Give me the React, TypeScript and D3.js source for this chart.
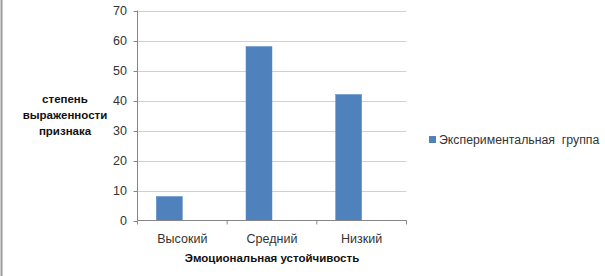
import React from "react";
import * as d3 from "d3";

const categories = ["Высокий", "Средний", "Низкий"];
const seriesName = "Экспериментальная  группа";
const values = [8, 58, 42];
const yTicks = [0, 10, 20, 30, 40, 50, 60, 70];
const yTitleLines = ["степень", "выраженности", "признака"];
const xTitle = "Эмоциональная устойчивость";

const W = 605;
const H = 276;
const left = 137.5;
const right = 406.5;
const top = 10.5;
const bottom = 220.5;
const font = "'Liberation Sans', Arial, sans-serif";

export default function App() {
  const x = d3.scaleBand<string>().domain(categories).range([left, right]).paddingInner(0).paddingOuter(0);
  const y = d3.scaleLinear().domain([0, 70]).range([bottom, top]);
  const bw = x.bandwidth();
  const gap = bw * 0.21;
  const barW = (bw - 2 * gap) / 2;
  return (
    <svg width={W} height={H} style={{ position: "absolute", left: 0, top: 0 }}>
      <rect x={0} y={0} width={W} height={H} fill="#fff" />
      <line x1={1.5} x2={1.5} y1={0} y2={H} stroke="#9a9a9a" strokeWidth={2} />
      {yTicks.map((t) => (
        <g key={t}>
          {t > 0 && (
            <line x1={left} x2={right} y1={Math.round(y(t)) + 0.5} y2={Math.round(y(t)) + 0.5} stroke="#d0d0d0" />
          )}
          <line x1={left - 4} x2={left} y1={Math.round(y(t)) + 0.5} y2={Math.round(y(t)) + 0.5} stroke="#868686" />
          <text x={127} y={y(t)} dy="0.35em" textAnchor="end" fontFamily={font} fontSize={12.5} fill="#333">
            {t}
          </text>
        </g>
      ))}
      {values.map((v, i) => (
        <rect
          key={i}
          x={(x(categories[i]) as number) + gap}
          y={y(v)}
          width={barW}
          height={bottom - y(v)}
          fill="#4f81bd"
          stroke="#5a8ac6"
          strokeWidth={0.5}
        />
      ))}
      <line x1={left} x2={left} y1={top} y2={bottom} stroke="#868686" />
      <line x1={left} x2={right} y1={bottom} y2={bottom} stroke="#868686" />
      {[...categories.map((c) => x(c) as number), right].map((px, i) => (
        <line key={i} x1={px} x2={px} y1={bottom} y2={bottom + 4} stroke="#868686" />
      ))}
      {categories.map((c) => (
        <text key={c} x={(x(c) as number) + bw / 2} y={239} dy="0.35em" textAnchor="middle" fontFamily={font} fontSize={12.5} fill="#333">
          {c}
        </text>
      ))}
      <text x={(left + right) / 2} y={258} dy="0.35em" textAnchor="middle" fontFamily={font} fontSize={11.5} fontWeight="bold" fill="#111">
        {xTitle}
      </text>
      {yTitleLines.map((l, i) => (
        <text key={l} x={65} y={99 + i * 16} dy="0.35em" textAnchor="middle" fontFamily={font} fontSize={11.5} fontWeight="bold" fill="#111">
          {l}
        </text>
      ))}
      <rect x={429} y={136} width={7} height={7} fill="#4f81bd" />
      <text x={439} y={140} dy="0.35em" fontFamily={font} fontSize={12.3} fill="#333" style={{ whiteSpace: "pre" }}>
        {seriesName}
      </text>
    </svg>
  );
}
